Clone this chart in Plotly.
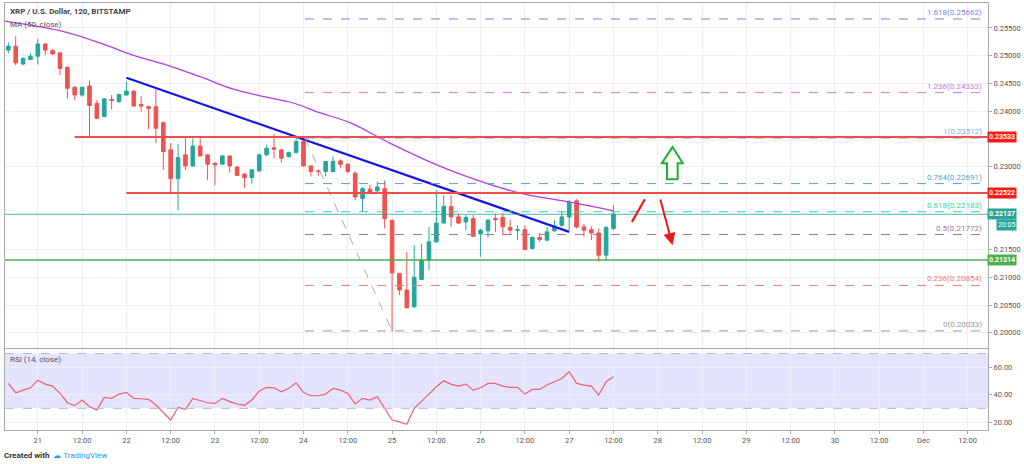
import plotly.graph_objects as go

hours = list(range(-8, 157, 2))
opens = [.2510,.2517,.2485,.2493,.2499,.2521,.2509,.2505,.2479,.2443,.2429,.2445,.2414,.2390,.2421,.2417,.2429,.2436,.2412,.2408,
         .2408,.2379,.2330,.2278,.2321,.2301,.2337,.2321,.2306,.2304,.2319,.2299,.2286,.2280,.2292,.2321,.2334,.2330,.2318,.2325,
         .2345,.2301,.2292,.2291,.2291,.2310,.2304,.2288,.2242,.2259,.2256,.2260,.2203,.2107,.2077,.2047,.2096,.2131,.2164,.2198,
         .2228,.2209,.2200,.2206,.2178,.2184,.2206,.2208,.2190,.2185,.2186,.2152,.2172,.2167,.2184,.2194,.2209,.2238,.2191,.2186,
         .2180,.2140,.2188]
highs = [.2524,.2535,.2497,.2504,.2531,.2522,.2512,.2506,.2480,.2445,.2444,.2455,.2420,.2423,.2429,.2431,.2453,.2438,.2427,.2409,
         .2439,.2381,.2342,.2341,.2351,.2351,.2351,.2322,.2307,.2321,.2320,.2301,.2288,.2295,.2322,.2339,.2359,.2331,.2327,.2354,
         .2354,.2302,.2295,.2310,.2318,.2313,.2306,.2291,.2263,.2267,.2273,.2275,.2204,.2108,.2146,.2158,.2161,.2191,.2257,.2248,
         .2248,.2215,.2212,.2212,.2188,.2206,.2215,.2216,.2204,.2194,.2194,.2174,.2180,.2191,.2203,.2218,.2239,.2241,.2196,.2192,
         .2188,.2192,.2230]
lows = [.2504,.2483,.2483,.2492,.2484,.2501,.2501,.2465,.2423,.2420,.2426,.2353,.2385,.2389,.2403,.2415,.2427,.2408,.2399,.2367,
        .2342,.2294,.2252,.2220,.2294,.2299,.2318,.2275,.2266,.2303,.2289,.2283,.2261,.2269,.2291,.2319,.2315,.2307,.2316,.2324,
        .2299,.2282,.2283,.2282,.2289,.2297,.2288,.2239,.2218,.2252,.2254,.2188,.2002,.2068,.2044,.2044,.2095,.2113,.2162,.2197,
        .2191,.2196,.2185,.2173,.2137,.2172,.2182,.2176,.2179,.2167,.2149,.2150,.2164,.2166,.2182,.2191,.2185,.2188,.2173,.2167,
        .2128,.2131,.2185]
closes = [.2517,.2487,.2495,.2499,.2521,.2510,.2503,.2477,.2441,.2429,.2443,.2410,.2387,.2422,.2419,.2430,.2436,.2409,.2409,.2405,
          .2369,.2327,.2278,.2316,.2301,.2337,.2319,.2304,.2303,.2319,.2301,.2284,.2280,.2294,.2321,.2333,.2331,.2315,.2325,.2345,
          .2301,.2291,.2291,.2309,.2309,.2304,.2291,.2245,.2260,.2254,.2263,.2206,.2108,.2077,.2045,.2100,.2131,.2164,.2198,.2228,
          .2209,.2198,.2208,.2174,.2185,.2203,.2204,.2191,.2185,.2186,.2150,.2172,.2168,.2182,.2192,.2209,.2235,.2191,.2185,.2180,
          .2140,.2190,.2214]
rsi = [48.2,41.4,43.3,45.0,50.6,47.7,46.2,40.9,34.1,32.0,36.1,31.2,28.8,38.0,37.3,40.4,41.6,37.3,37.0,36.6,
       32.4,26.9,21.5,30.7,29.3,37.3,35.6,34.1,33.6,37.3,34.9,33.2,32.2,36.1,42.6,45.3,45.0,42.1,44.6,48.7,
       41.6,39.2,39.2,40.4,44.6,43.3,40.9,33.2,37.3,36.1,38.5,30.0,21.5,20.1,18.4,30.0,34.9,40.4,45.8,50.1,
       47.5,46.2,47.7,43.3,45.0,48.2,48.2,46.2,45.3,45.3,40.4,43.8,43.8,47.0,49.4,51.8,56.7,48.2,47.0,46.2,
       39.7,49.4,53.0]
ma_hours = [-9.5, 6, 16.8, 25.7, 35, 44, 52.8, 62, 69, 76.4, 84.6, 95.4, 105, 115, 130.6, 144, 156]
ma_vals = [.2563,.2545,.2523,.2501,.2483,.2462,.2440,.2425,.2415,.2397,.2379,.2342,.2312,.2285,.2252,.2236,.2220]
trend_h = [24, 144]
trend_p = [.2460, .2182]
fib_ratio = ["1.618", "1.236", "1", "0.764", "0.618", "0.5", "0.236", "0"]
fib_price = [0.25662, 0.24333, 0.23512, 0.22691, 0.22183, 0.21772, 0.20854, 0.20033]
fib_color = ["#7f7fe0", "#c77be0", "#74b4e6", "#5c9ccc", "#35d0a0", "#9c7d8c", "#f07878", "#9a9a9a"]
res1, res2, sup, last = 0.23533, 0.22522, 0.21314, 0.22137
xtick_h = [0, 12, 24, 36, 48, 60, 72, 84, 96, 108, 120, 132, 144, 156, 168, 180, 192, 204, 216, 228, 240, 252]
xtick_t = ["21", "12:00", "22", "12:00", "23", "12:00", "24", "12:00", "25", "12:00", "26", "12:00", "27", "12:00",
           "28", "12:00", "29", "12:00", "30", "12:00", "Dec", "12:00"]
price_ticks = [0.200, 0.205, 0.210, 0.215, 0.230, 0.240, 0.245, 0.250, 0.255]

X0, X1 = -8.9, 257.5
fig = go.Figure()
fig.add_trace(go.Candlestick(x=hours, open=opens, high=highs, low=lows, close=closes,
    increasing=dict(line=dict(color="#26a69a", width=1), fillcolor="#26a69a"),
    decreasing=dict(line=dict(color="#ef5350", width=1), fillcolor="#ef5350"),
    whiskerwidth=0, showlegend=False, xaxis="x", yaxis="y"))
fig.add_trace(go.Scatter(x=ma_hours, y=ma_vals, mode="lines", line=dict(color="#b23ee8", width=1.3, shape="spline"),
                         showlegend=False, hoverinfo="skip"))
fig.add_trace(go.Scatter(x=trend_h, y=trend_p, mode="lines", line=dict(color="#1515e6", width=2.2), showlegend=False))
fig.add_trace(go.Scatter(x=[72.4, 96], y=[fib_price[2], fib_price[7]], mode="lines",
                         line=dict(color="#aaaaaa", width=1, dash="dash"), showlegend=False))
fig.add_trace(go.Scatter(x=hours, y=rsi, mode="lines", line=dict(color="#f06070", width=1.2),
                         xaxis="x2", yaxis="y2", showlegend=False))

shapes = []
for p, c in zip(fib_price, fib_color):
    shapes.append(dict(type="line", xref="x", yref="y", x0=72.4, x1=256.5, y0=p, y1=p, line=dict(color=c, width=1, dash="dash")))
shapes += [
    dict(type="line", xref="x", yref="y", x0=X0, x1=X1, y0=last, y1=last, line=dict(color="#26a69a", width=0.8)),
    dict(type="line", xref="x", yref="y", x0=10, x1=X1, y0=res1, y1=res1, line=dict(color="#f44b4b", width=2)),
    dict(type="line", xref="x", yref="y", x0=24, x1=X1, y0=res2, y1=res2, line=dict(color="#f44b4b", width=2)),
    dict(type="line", xref="x", yref="y", x0=X0, x1=X1, y0=sup, y1=sup, line=dict(color="#4caf50", width=1.5)),
    dict(type="line", xref="x", yref="y", x0=161, x1=164.5, y0=0.2200, y1=0.2241, line=dict(color="#f01818", width=2.2)),
    dict(type="path", xref="x", yref="y",
         path="M 172,0.2335 L 174.8,0.2306 L 173.4,0.2306 L 173.4,0.2277 L 170.5,0.2277 L 170.5,0.2306 L 169.1,0.2306 Z",
         line=dict(color="#1fae3a", width=2), fillcolor="rgba(0,0,0,0)"),
    dict(type="rect", xref="x", yref="y2", x0=X0, x1=X1, y0=30, y1=70, fillcolor="rgba(120,120,255,0.2)", line_width=0, layer="below"),
    dict(type="line", xref="x", yref="y2", x0=X0, x1=X1, y0=70, y1=70, line=dict(color="#bbbbbb", width=1, dash="dash")),
    dict(type="line", xref="x", yref="y2", x0=X0, x1=X1, y0=30, y1=30, line=dict(color="#bbbbbb", width=1, dash="dash")),
]

ann = []
for r, p, c in zip(fib_ratio, fib_price, fib_color):
    ann.append(dict(x=256.3, y=p, xref="x", yref="y", text=f"{r}({p:.5f})", showarrow=False, xanchor="right",
                    yanchor="bottom", font=dict(size=8, color=c)))
for p, bg in [(res1, "#ff1a1a"), (res2, "#ff1a1a"), (last, "#26a69a"), (sup, "#4caf50")]:
    ann.append(dict(x=1, y=p, xref="paper", yref="y", text=f"<b>{p:.5f}</b>", showarrow=False, xanchor="left", xshift=-1,
                    bgcolor=bg, font=dict(size=7, color="white"), borderpad=1))
ann.append(dict(x=1, y=last, xref="paper", yref="y", text="20:05", showarrow=False, xanchor="left", xshift=8, yshift=-11,
                bgcolor="#26a69a", font=dict(size=7, color="white"), borderpad=1))
ann.append(dict(x=172, y=0.2158, ax=168.6, ay=0.2243, xref="x", yref="y", axref="x", ayref="y", text="", showarrow=True,
                arrowhead=2, arrowsize=1.2, arrowwidth=2, arrowcolor="#f01818"))
ann += [
    dict(x=0.003, y=0.995, xref="paper", yref="paper", text="<b>XRP / U.S. Dollar, 120, BITSTAMP</b>", showarrow=False,
         xanchor="left", yanchor="top", font=dict(size=8, color="#444")),
    dict(x=0.003, y=0.965, xref="paper", yref="paper", text="MA (50, close)", showarrow=False,
         xanchor="left", yanchor="top", font=dict(size=8, color="#555")),
    dict(x=0.003, y=0.18, xref="paper", yref="paper", text="RSI (14, close)", showarrow=False,
         xanchor="left", yanchor="top", font=dict(size=8, color="#555")),
    dict(x=0.0, y=-0.045, xref="paper", yref="paper", xshift=-3, text="<b>Created with</b>  <span style='color:#2196f3'>☁ TradingView</span>",
         showarrow=False, xanchor="left", yanchor="top", font=dict(size=8, color="#333")),
]

axstyle = dict(showline=True, linecolor="#aaaaaa", mirror=True, gridcolor="#eaf0f6", zeroline=False, automargin=False)
fig.update_layout(
    width=1024, height=464, margin=dict(l=5, r=36, t=3, b=34), plot_bgcolor="white", paper_bgcolor="white",
    font=dict(family="Roboto", size=7.5, color="#555"),
    xaxis=dict(range=[X0, X1], domain=[0, 1], anchor="y", showticklabels=False, tickvals=xtick_h,
               rangeslider=dict(visible=False), **axstyle),
    xaxis2=dict(range=[X0, X1], domain=[0, 1], anchor="y2", matches="x", tickvals=xtick_h, ticktext=xtick_t,
                ticks="outside", ticklen=3, tickcolor="#aaa", **axstyle),
    yaxis=dict(domain=[0.192, 1], range=[0.19724, 0.2595], side="right", tickvals=price_ticks, tickformat=".5f",
               ticks="outside", ticklen=3, tickcolor="#aaa", tickfont=dict(size=7.5), **axstyle),
    yaxis2=dict(domain=[0, 0.189], range=[14.2, 73.1], side="right", tickvals=[20, 40, 60], tickformat=".2f",
                ticks="outside", ticklen=3, tickcolor="#aaa", tickfont=dict(size=7.5), **axstyle),
    shapes=shapes, annotations=ann, hovermode=False,
)
fig.write_html("out.html", config={"displayModeBar": False},
               post_script="document.body.style.margin='0';document.body.style.overflow='hidden';")
